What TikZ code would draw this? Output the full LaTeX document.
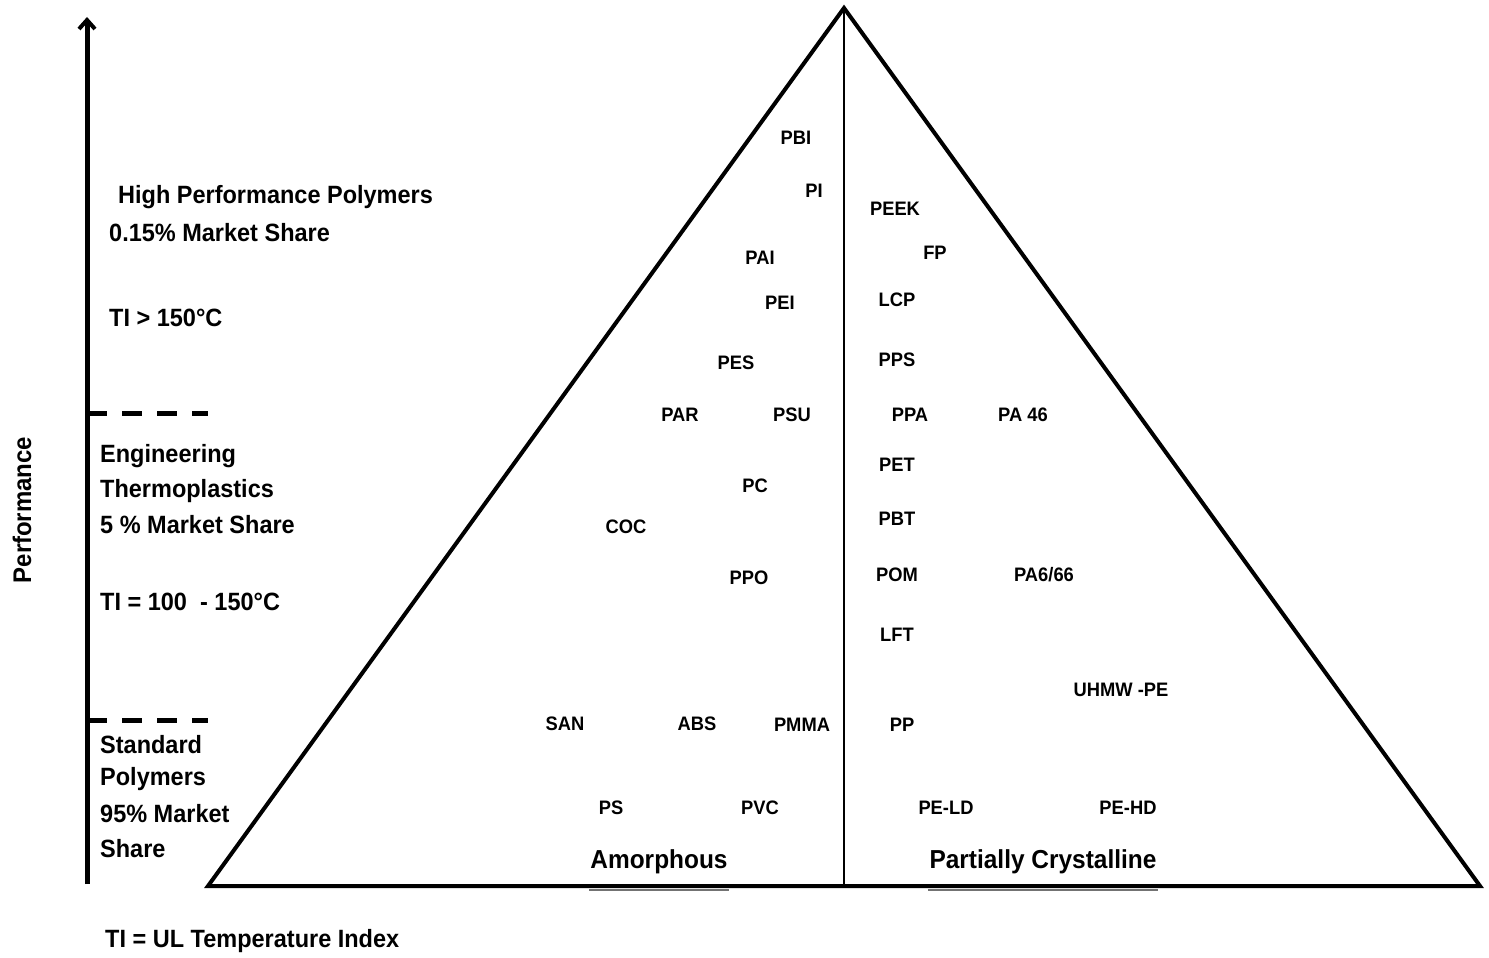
\documentclass[tikz,border=0pt]{standalone}
\usepackage{fontspec}
\setmainfont{Liberation Sans}[BoldFeatures={FakeStretch=0.94}]
\usetikzlibrary{arrows.meta}
\tikzset{
  lbl/.style={inner sep=0pt, font=\bfseries\fontsize{19.5}{22}\selectfont},
  side/.style={inner sep=0pt, anchor=west, font=\bfseries\fontsize{25}{30}\selectfont},
  cat/.style={inner sep=0pt, font=\bfseries\fontsize{26}{30}\selectfont},
  thick4/.style={line width=4pt},
  dashsep/.style={line width=5pt, dash pattern=on 20pt off 15pt},
  uline/.style={line width=2pt, draw=black!55},
}
\begin{document}
\begin{tikzpicture}[x=1pt,y=-1pt]
\useasboundingbox (0,0) rectangle (1489,958);
% triangle
\coordinate (apex) at (844,8);
\coordinate (bl) at (208,886);
\coordinate (br) at (1480,886);
\coordinate (bm) at (844,886);
\draw[thick4, line join=miter] (bl) -- (apex) -- (br) -- cycle;
\draw[line width=1.5pt] (apex) -- (bm);
% performance arrow
\coordinate (abot) at (87,884);
\coordinate (atop) at (87,17);
\draw[line width=5pt, -{Straight Barb[length=9pt,width=16pt,line width=4pt]}] (abot) -- (atop);
\coordinate (d1a) at (87,413); \coordinate (d1b) at (208,413);
\coordinate (d2a) at (87,720); \coordinate (d2b) at (208,720);
\draw[dashsep] (d1a) -- (d1b);
\draw[dashsep] (d2a) -- (d2b);
\node[inner sep=0pt, rotate=90, font=\bfseries\fontsize{25.5}{28}\selectfont] (perf) at (22,510) {Performance};
% left texts
\node[side] (h1) at (118,197) {High Performance Polymers};
\node[side] (h2) at (109,233) {0.15\% Market Share};
\node[side] (h3) at (109,318) {TI > 150°C};
\node[side] (e1) at (100,456) {Engineering};
\node[side] (e2) at (100,491) {Thermoplastics};
\node[side] (e3) at (100,525) {5 \% Market Share};
\node[side] (e4) at (100,602) {TI = 100~ - 150°C};
\node[side] (s1) at (100,745) {Standard};
\node[side] (s2) at (100,779) {Polymers};
\node[side] (s3) at (100,814) {95\% Market};
\node[side] (s4) at (100,849) {Share};
\node[side] (ti) at (105,941) {TI = UL Temperature Index};
% polymer labels
\node[lbl] (pbi) at (796,138) {PBI};
\node[lbl] (pi) at (814,191) {PI};
\node[lbl] (peek) at (895,209) {PEEK};
\node[lbl] (fp) at (935,253) {FP};
\node[lbl] (pai) at (760,258) {PAI};
\node[lbl] (pei) at (780,303) {PEI};
\node[lbl] (lcp) at (897,300) {LCP};
\node[lbl] (pes) at (736,363) {PES};
\node[lbl] (pps) at (897,360) {PPS};
\node[lbl] (par) at (680,415) {PAR};
\node[lbl] (psu) at (792,415) {PSU};
\node[lbl] (ppa) at (910,415) {PPA};
\node[lbl] (pa46) at (1023,415) {PA 46};
\node[lbl] (pet) at (897,465) {PET};
\node[lbl] (pc) at (755,486) {PC};
\node[lbl] (coc) at (626,527) {COC};
\node[lbl] (pbt) at (897,519) {PBT};
\node[lbl] (ppo) at (749,578) {PPO};
\node[lbl] (pom) at (897,575) {POM};
\node[lbl] (pa666) at (1044,575) {PA6/66};
\node[lbl] (lft) at (897,635) {LFT};
\node[lbl] (uhmw) at (1121,690) {UHMW -PE};
\node[lbl] (san) at (565,724) {SAN};
\node[lbl] (abs) at (697,724) {ABS};
\node[lbl] (pmma) at (802,725) {PMMA};
\node[lbl] (pp) at (902,725) {PP};
\node[lbl] (ps) at (611,808) {PS};
\node[lbl] (pvc) at (760,808) {PVC};
\node[lbl] (peld) at (946,808) {PE-LD};
\node[lbl] (pehd) at (1128,808) {PE-HD};
% categories
\node[cat] (amo) at (659,862) {Amorphous};
\node[cat] (pcr) at (1043,862) {Partially Crystalline};
\coordinate (u1a) at (589,890); \coordinate (u1b) at (729,890);
\coordinate (u2a) at (928,890); \coordinate (u2b) at (1158,890);
\draw[uline] (u1a) -- (u1b);
\draw[uline] (u2a) -- (u2b);
\end{tikzpicture}
\end{document}
